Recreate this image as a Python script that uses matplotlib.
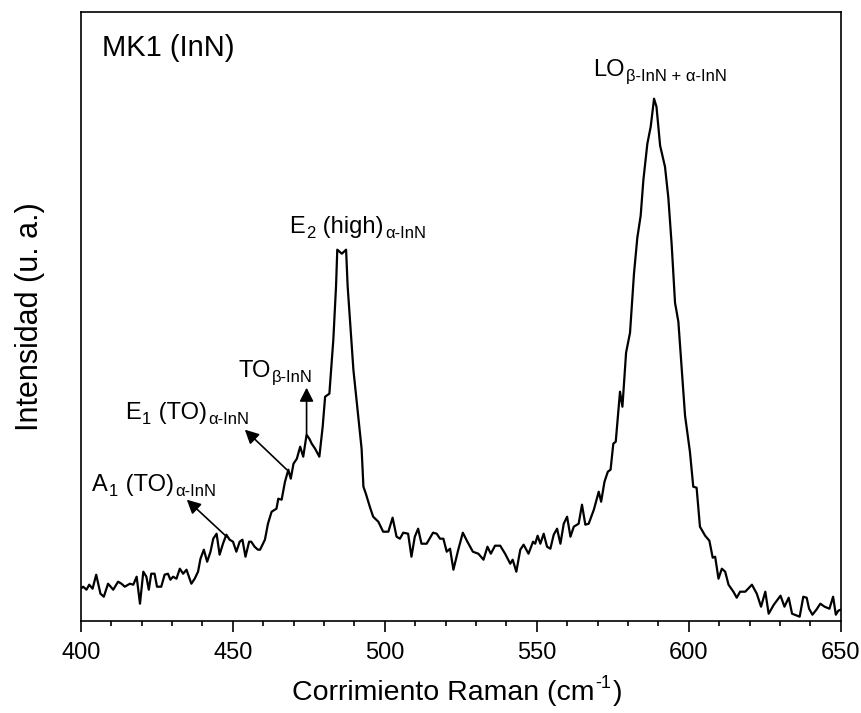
import matplotlib
matplotlib.use("Agg")
import matplotlib.pyplot as plt
from matplotlib.ticker import MultipleLocator

plt.rcParams['font.family'] = ['Liberation Sans', 'DejaVu Sans']

# ---- data (Raman shift in cm^-1, intensity in arbitrary units) ----
raman_shift = [
    400.0, 400.8, 401.9, 402.8, 403.9, 405.1, 406.5, 407.6, 409.0, 410.7,
    412.3, 413.4, 414.5, 416.2, 417.3, 418.4, 419.5, 420.6, 421.6, 422.4,
    423.2, 424.3, 425.1, 426.5, 427.6, 428.7, 429.5, 430.4, 431.5, 432.6,
    433.7, 434.8, 436.4, 437.5, 438.6, 439.4, 440.5, 441.6, 442.7, 443.6,
    444.7, 445.7, 446.8, 447.9, 449.0, 450.1, 451.2, 452.3, 453.2, 454.2,
    455.4, 456.1, 457.2, 458.3,
    459.0, 460.6, 461.6, 462.8, 464.4, 465.0, 466.1, 467.2, 468.3, 469.1,
    470.0, 471.1, 472.2, 473.2, 474.3, 475.2, 476.0, 477.1, 478.5, 479.6,
    480.4, 481.8, 483.1, 484.0, 484.4, 485.9, 487.3, 487.8, 488.6, 489.7,
    491.3, 492.4, 493.0, 493.8, 495.1, 496.2, 497.9,
    499.5, 501.2, 502.6, 503.9, 505.0, 506.1, 507.7, 508.8, 509.9, 511.0,
    512.1, 513.8, 515.9, 517.1, 518.2, 519.3, 520.4, 521.5, 522.6, 524.2,
    525.7, 527.2, 529.0, 530.8, 532.5, 533.8, 534.9, 536.3, 538.0, 539.6,
    541.3, 542.1, 543.3, 544.6, 545.7, 547.3, 548.8, 549.5, 550.3, 551.2,
    552.3, 553.4, 554.5, 555.6, 556.7, 557.8, 558.9, 560.0, 561.1, 562.2,
    563.8, 564.9, 566.0, 567.1, 568.8, 570.4, 571.2, 572.3, 573.4, 574.3,
    575.2, 576.0, 577.4, 578.2,
    579.4, 580.7, 582.0, 583.1, 584.2, 585.1, 586.4, 587.5, 588.6, 589.4,
    590.6, 592.2, 593.3, 594.4, 595.5, 596.6, 597.7, 598.8, 600.4, 601.5,
    602.6, 603.7, 605.4, 606.8, 607.9, 608.7, 609.8, 610.9, 612.0, 613.1,
    614.7, 615.8, 616.9, 618.6, 620.8, 622.4, 623.8, 625.2, 626.3, 628.0,
    630.2, 631.5, 632.9, 634.0, 635.7, 636.5,
    637.7, 638.8, 639.6, 640.7, 642.0, 643.3, 644.7, 646.3, 647.5, 648.4,
    649.2, 650.0,
]
intensity = [
    32, 34, 31, 36, 32, 46, 27, 24, 37, 31,
    39, 37, 34, 37, 36, 44, 17, 49, 44, 31,
    47, 47, 34, 34, 46, 47, 41, 44, 42, 52,
    47, 51, 37, 42, 49, 62, 71, 59, 69, 82,
    87, 66, 77, 86, 81, 79, 69, 79, 81, 64,
    79, 79, 74, 71,
    71, 81, 97, 109, 112, 122, 121, 139, 151, 142,
    157, 162, 174, 164, 186, 182, 177, 172, 164, 194,
    224, 227, 281, 335, 371, 367, 371, 335, 300, 251,
    204, 172, 134, 127, 114, 104, 99,
    89, 89, 103, 84, 82, 88, 87, 64, 84, 92,
    77, 77, 88, 87, 82, 82, 69, 72, 51, 71,
    88, 79, 69, 67, 61, 74, 67, 75, 75, 67,
    57, 61, 49, 71, 76, 67, 79, 77, 85, 77,
    87, 74, 72, 86, 92, 77, 97, 104, 84, 94,
    97, 116, 96, 97, 111, 129, 119, 139, 149, 151,
    177, 179, 229, 214,
    268, 288, 347, 383, 405, 441, 477, 494, 522, 514,
    475, 454, 423, 376, 318, 299, 252, 205, 169, 134,
    133, 94, 85, 80, 63, 64, 42, 52, 49, 36,
    29, 23, 29, 29, 36, 27, 14, 29, 7, 16,
    25, 14, 23, 7, 5, 4,
    24, 23, 12, 6, 11, 17, 14, 12, 24, 6,
    10, 11,
]

x_major_ticks = [400, 450, 500, 550, 600, 650]

# annotations: (left x, baseline y, [(text, is_subscript), ...])
peak_labels = [
    (568.6, 545.0, [("LO", False), ("\u03b2-InN + \u03b1-InN", True)]),
    (468.5, 388.0, [("E", False), ("2", True), (" (high)", False), ("\u03b1-InN", True)]),
    (451.8, 244.0, [("TO", False), ("\u03b2-InN", True)]),
    (414.6, 202.0, [("E", False), ("1", True), (" (TO)", False), ("\u03b1-InN", True)]),
    (403.6, 130.0, [("A", False), ("1", True), (" (TO)", False), ("\u03b1-InN", True)]),
]
# arrows: (tail x, tail y, head x, head y)
arrows = [
    (474.3, 187.0, 474.3, 233.0),
    (467.8, 151.0, 454.0, 191.0),
    (448.0, 84.0, 434.9, 121.0),
]

fig = plt.figure(figsize=(8.62, 7.13), dpi=100)
ax = fig.add_axes([80.7 / 862, 1 - 620.7 / 713, 760 / 862, 609 / 713])

ax.plot(raman_shift, intensity, color='black', lw=1.6, solid_joinstyle='round')

ax.set_xlim(400, 650)
ax.set_ylim(0, 609)
ax.set_xticks(x_major_ticks)
ax.xaxis.set_minor_locator(MultipleLocator(10))
ax.set_yticks([])
ax.tick_params(axis='x', which='major', direction='out', length=8, width=1.2,
               labelsize=17, pad=7)
ax.tick_params(axis='x', which='minor', direction='out', length=3.5, width=1.2)
for sp in ax.spines.values():
    sp.set_linewidth(1.2)

ax.set_ylabel('Intensidad (u. a.)', fontsize=22, labelpad=26)

# x label built from pieces so the superscript uses a plain hyphen
XL_BASE = 13.5 / 713
xl_main = ax.annotate('Corrimiento Raman (cm', xy=(292 / 862, XL_BASE),
                      xycoords='figure fraction', fontsize=20.5,
                      va='baseline', ha='left', annotation_clip=False)
xl_sup = ax.annotate('-1', xy=(1, XL_BASE), xycoords=(xl_main, 'figure fraction'),
                     xytext=(0.6, 8.5), textcoords='offset points', fontsize=13,
                     va='baseline', ha='left', annotation_clip=False)
xl_end = ax.annotate(')', xy=(1, XL_BASE), xycoords=(xl_sup, 'figure fraction'),
                     xytext=(0.8, 0), textcoords='offset points', fontsize=20.5,
                     va='baseline', ha='left', annotation_clip=False)

ax.text(406.9, 565.0, 'MK1 (InN)', fontsize=21, va='baseline', ha='left')

FS = 17
SUB = 12
for x0, y0, parts in peak_labels:
    prev = None
    for txt, is_sub in parts:
        fs = SUB if is_sub else FS
        dy = -4 if is_sub else 0
        if prev is None:
            prev = ax.text(x0, y0, txt, fontsize=fs, va='baseline', ha='left')
        else:
            prev = ax.annotate(txt, xy=(1, y0), xycoords=(prev, 'data'),
                               xytext=(0.8, dy), textcoords='offset points',
                               fontsize=fs, va='baseline', ha='left')

for tx, ty, hx, hy in arrows:
    ax.annotate('', xy=(hx, hy), xytext=(tx, ty),
                arrowprops=dict(arrowstyle='-|>,head_length=0.55,head_width=0.28',
                                mutation_scale=15, lw=1.2, color='black',
                                shrinkA=0, shrinkB=0))

fig.savefig('out.png', dpi=100)
